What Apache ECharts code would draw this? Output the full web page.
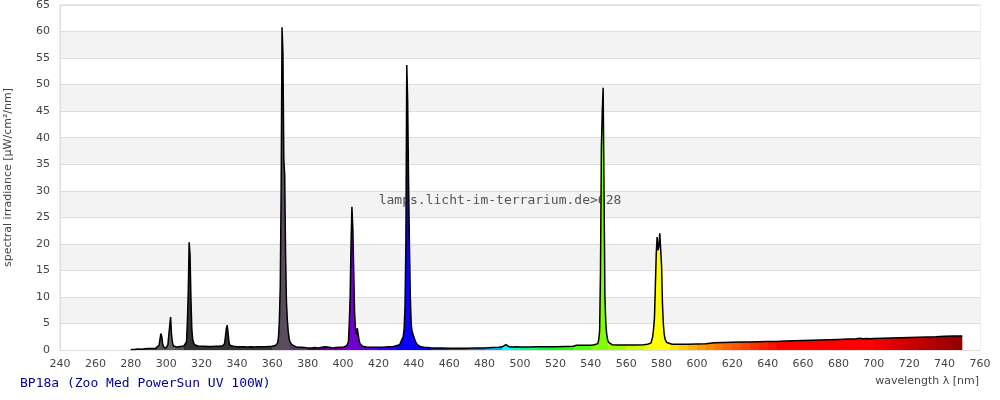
<!DOCTYPE html>
<html>
<head>
<meta charset="utf-8">
<script src="https://cdn.jsdelivr.net/npm/echarts@6/dist/echarts.min.js"></script>
<style>html,body{margin:0;padding:0;background:#fff}#c{width:1000px;height:400px}</style>
</head>
<body>
<div id="c"></div>
<script>
// wavelength [nm]
var wavelengths = [
  280,281,282,284,286,288,289,290,291,292,293,294,295,296,296.5,297,297.5,298,298.5,299,
  300,301,301.5,302,302.5,303,303.5,304,305,306,308,310,311,311.5,312,312.5,313,313.5,314,314.5,
  315,315.5,316,318,320,322,324,326,328,330,332,333,333.5,334,334.5,335,335.5,336,338,
  340,342,344,346,348,350,352,354,356,358,360,361,362,363,363.5,364,364.5,365,365.5,366,
  366.5,367,367.5,368,368.5,369,369.5,370,371,372,374,376,378,380,382,384,386,388,390,391,392,
  393,394,396,398,400,401,402,403,403.5,404,404.5,405,405.5,406,406.5,407,407.5,408,408.5,409,
  409.5,410,411,412,414,416,418,420,422,424,426,428,430,431,432,433,434,434.5,435,435.5,
  436,436.5,437,437.5,438,438.5,439,440,441,442,444,446,448,450,455,460,465,470,475,480,
  484,488,490,491,492,493,494,496,498,500,505,510,515,520,525,530,532,535,538,540,
  542,543,544,544.5,545,545.5,546,546.5,547,547.5,548,548.5,549,549.5,550,551,552,555,560,565,570,572,
  574,575,575.5,576,576.5,577,577.5,578,578.5,579,579.5,580,580.5,581,581.5,582,583,584,586,590,
  595,600,605,606,610,615,620,625,630,635,640,645,650,655,660,665,670,675,680,685,
  690,691,692,694,696,698,700,705,710,715,720,725,730,735,740,745,750
];
// spectral irradiance [µW/cm²/nm]
var irradiance = [
  0.1,0.15,0.1,0.2,0.15,0.25,0.45,0.3,0.2,0.3,0.4,0.3,0.5,0.9,2.0,3.1,2.6,1.2,0.6,0.4,
  0.35,1.0,2.8,4.5,6.2,3.0,1.5,0.8,0.5,0.55,0.65,0.75,0.9,1.5,5.3,11,20.3,18,9.8,4,
  2,1.4,1.0,0.75,0.7,0.7,0.65,0.65,0.7,0.7,0.8,1.2,2.5,4.0,4.7,3.2,1.5,0.9,0.7,
  0.6,0.6,0.6,0.55,0.6,0.55,0.6,0.6,0.6,0.65,0.7,0.8,0.9,1.3,2.5,5.6,12,30,60.8,56,
  36,33,18,9,5.6,3.5,2.2,1.5,1.0,0.7,0.5,0.5,0.45,0.4,0.4,0.45,0.4,0.5,0.6,0.9,0.5,
  0.7,0.4,0.45,0.5,0.5,0.6,0.8,1.5,5,10,20,27,23,15,7,4,3,4.1,3.8,2.0,
  1.2,0.9,0.7,0.6,0.5,0.5,0.5,0.5,0.5,0.55,0.6,0.6,0.8,0.9,1.0,1.8,2.5,4,8,20,
  53.7,47,32,20,10,5,3.5,2.5,1.5,1.0,0.6,0.5,0.45,0.4,0.4,0.35,0.35,0.35,0.4,0.4,
  0.45,0.5,0.6,0.8,1.0,0.7,0.6,0.55,0.6,0.55,0.55,0.6,0.6,0.6,0.65,0.7,0.9,0.9,0.9,0.9,
  1.0,1.1,1.2,2,3.5,15,38,45,49.4,30,10,5,3,2,1.5,1.2,1.0,0.95,0.95,0.95,1.0,1.1,
  1.3,2.5,4,6,12,18,21.3,18.8,19.5,22,19,16,9,5,3,2,1.4,1.2,1.1,1.1,
  1.1,1.15,1.2,1.3,1.35,1.4,1.45,1.5,1.5,1.55,1.6,1.6,1.7,1.75,1.8,1.85,1.9,1.95,2.0,2.05,
  2.1,2.4,2.2,2.1,2.15,2.1,2.15,2.2,2.25,2.3,2.35,2.4,2.45,2.5,2.6,2.62,2.64
];
var xTicks = {min: 240, max: 760, step: 20};
var yTicks = {min: 0, max: 65, step: 5};
var titleText = 'BP18a (Zoo Med PowerSun UV 100W)';
var watermarkText = 'lamps.licht-im-terrarium.de>628';
var xName = 'wavelength λ [nm]';
var yName = 'spectral irradiance [µW/cm²/nm]';

// colour bins by wavelength (style)
var colorBins = [
  [280,295,'#444444'],[295,300,'#555555'],[300,305,'#666666'],[305,310,'#555555'],[310,360,'#333333'],
  [360,370,'#594c5c'],[370,380,'#5a3a66'],[380,390,'#61007a'],[390,400,'#6a0099'],[400,410,'#7000cc'],
  [410,420,'#5c00e6'],[420,430,'#3300ff'],[430,440,'#0a00ff'],[440,450,'#0000ff'],[450,460,'#0028ff'],
  [460,470,'#0050ff'],[470,480,'#0080ff'],[480,490,'#00b0ff'],[490,495,'#00ffff'],[495,500,'#00ffc0'],
  [500,510,'#00ff80'],[510,520,'#00ff30'],[520,530,'#20ff00'],[530,540,'#50ff00'],[540,550,'#80ff00'],
  [550,560,'#a0ff00'],[560,570,'#c8ff00'],[570,575,'#eeff00'],[575,585,'#ffff00'],[585,590,'#ffe600'],
  [590,595,'#ffcc00'],[595,600,'#ffb300'],[600,605,'#ff9900'],[605,610,'#ff8800'],[610,615,'#ff7700'],
  [615,620,'#ff6600'],[620,625,'#ff5500'],[625,630,'#ff4400'],[630,635,'#ff3300'],[635,640,'#ff2200'],
  [640,645,'#ff1100'],[645,700,'#ff0000'],[700,705,'#f00000'],[705,710,'#e60000'],[710,715,'#dd0000'],
  [715,720,'#d20000'],[720,725,'#c80000'],[725,730,'#bd0000'],[730,735,'#b30000'],[735,740,'#a80000'],
  [740,745,'#9e0000'],[745,760,'#960000']
];

var data = wavelengths.map(function (w, i) { return [w, irradiance[i]]; });
var pieces = colorBins.map(function (b) { return {gte: b[0], lt: b[1], color: b[2]}; });

var chart = echarts.init(document.getElementById('c'), null, {renderer: 'canvas'});
var labelFont = 'DejaVu Sans';
chart.setOption({
  animation: false,
  backgroundColor: '#fff',
  grid: {left: 60, right: 20, top: 5, bottom: 50, containLabel: false, outerBoundsMode: 'none',
         show: true, borderColor: '#dddddd', borderWidth: 1, backgroundColor: 'transparent'},
  xAxis: {
    type: 'value', min: xTicks.min, max: xTicks.max, interval: xTicks.step,
    axisLine: {show: true, lineStyle: {color: '#dddddd'}},
    axisTick: {show: false},
    splitLine: {show: false},
    axisLabel: {color: '#444', fontSize: 11, fontFamily: labelFont, margin: 9}
  },
  yAxis: {
    type: 'value', min: yTicks.min, max: yTicks.max, interval: yTicks.step,
    name: yName, nameLocation: 'middle', nameGap: 46, nameRotate: 90,
    nameTextStyle: {color: '#444', fontSize: 11, fontFamily: labelFont},
    axisLine: {show: true, lineStyle: {color: '#dddddd'}},
    axisTick: {show: false},
    splitLine: {show: true, lineStyle: {color: '#dddddd'}},
    splitArea: {show: true, areaStyle: {color: ['#ffffff', '#f3f3f3']}},
    axisLabel: {color: '#444', fontSize: 11, fontFamily: labelFont, margin: 10}
  },
  visualMap: {
    type: 'piecewise', show: false, dimension: 0, seriesIndex: 0,
    pieces: pieces, outOfRange: {color: '#333333'}
  },
  series: [{
    type: 'line', data: data, showSymbol: false, symbol: 'none', smooth: false, z: 3,
    lineStyle: {color: '#000000', width: 1.5},
    areaStyle: {opacity: 1}
  }],
  graphic: [
    {type: 'text', x: 500, y: 201, z: 1, silent: true,
     style: {text: watermarkText, font: '13px "DejaVu Sans Mono"', fill: '#555555', textAlign: 'center', textVerticalAlign: 'middle', align: 'center', verticalAlign: 'middle'}},
    {type: 'text', x: 20, y: 384, z: 5, silent: true,
     style: {text: titleText, font: '13px "DejaVu Sans Mono"', fill: '#000099', textAlign: 'left', textVerticalAlign: 'middle', align: 'left', verticalAlign: 'middle'}},
    {type: 'text', x: 979, y: 381, z: 5, silent: true,
     style: {text: xName, font: '11px "DejaVu Sans"', fill: '#444444', textAlign: 'right', textVerticalAlign: 'middle', align: 'right', verticalAlign: 'middle'}}
  ]
});
</script>
</body>
</html>
